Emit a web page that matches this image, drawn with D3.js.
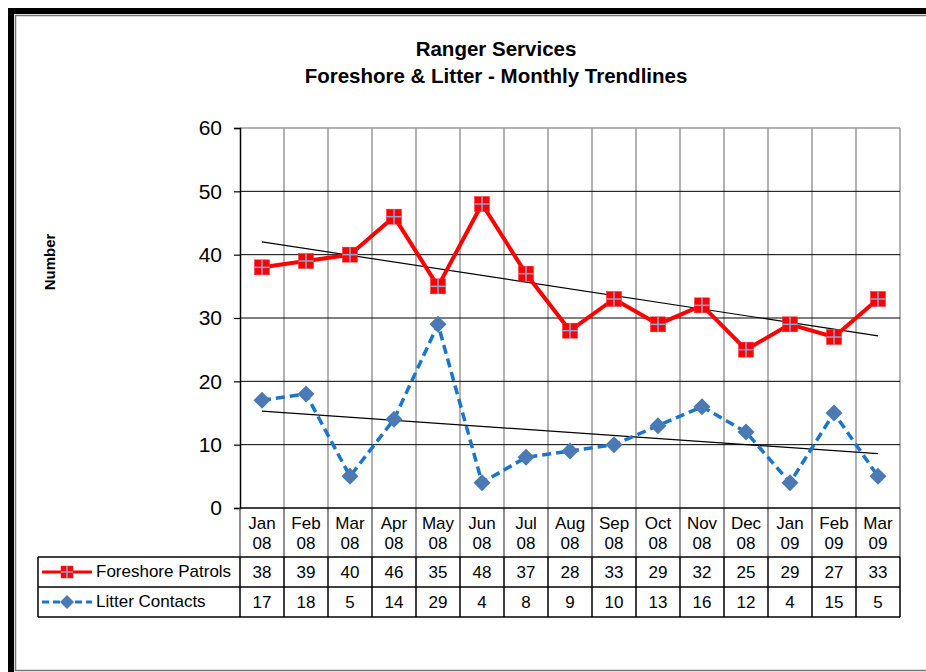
<!DOCTYPE html>
<html>
<head>
<meta charset="utf-8">
<script src="https://cdn.jsdelivr.net/npm/d3@7/dist/d3.min.js"></script>
<style>
  html, body { margin: 0; padding: 0; background: #fff; }
  svg { display: block; font-family: Arial, "Liberation Sans", sans-serif; }
</style>
</head>
<body>
<svg id="chart" width="926" height="672"></svg>
<script>
// Monthly categories (two-line labels: month / year)
const months = ["Jan", "Feb", "Mar", "Apr", "May", "Jun", "Jul", "Aug", "Sep", "Oct", "Nov", "Dec", "Jan", "Feb", "Mar"];
const years  = ["08", "08", "08", "08", "08", "08", "08", "08", "08", "08", "08", "08", "09", "09", "09"];
const foreshorePatrols = [38, 39, 40, 46, 35, 48, 37, 28, 33, 29, 32, 25, 29, 27, 33];
const litterContacts   = [17, 18, 5, 14, 29, 4, 8, 9, 10, 13, 16, 12, 4, 15, 5];
const yTicks = [0, 10, 20, 30, 40, 50, 60];

const seriesNames = ["Foreshore Patrols", "Litter Contacts"];

const svg = d3.select("#chart");

// Chart frame
svg.append("rect").attr("x", 11).attr("y", 11).attr("width", 1000).attr("height", 700)
  .attr("fill", "none").attr("stroke", "#000").attr("stroke-width", 6);
svg.append("rect").attr("x", 15.5).attr("y", 15.5).attr("width", 1000).attr("height", 655)
  .attr("fill", "none").attr("stroke", "#777").attr("stroke-width", 1.5);

// Titles
svg.append("text").attr("x", 496).attr("y", 56).attr("text-anchor", "middle")
  .attr("font-size", 20.5).attr("font-weight", "bold").text("Ranger Services");
svg.append("text").attr("x", 496).attr("y", 83).attr("text-anchor", "middle")
  .attr("font-size", 20.5).attr("font-weight", "bold").text("Foreshore & Litter - Monthly Trendlines");

// Scales
const plotLeft = 240, plotRight = 900, plotTop = 128, plotBottom = 508;
const keys = months.map((m, i) => i);
const x = d3.scaleBand().domain(keys).range([plotLeft, plotRight]);
const y = d3.scaleLinear().domain([0, 60]).range([plotBottom, plotTop]);
const cx = i => x(i) + x.bandwidth() / 2;

// Vertical gridlines at category boundaries
const boundaries = d3.range(months.length + 1).map(i => plotLeft + i * x.bandwidth());
svg.append("g").selectAll("line").data(boundaries.slice(1)).join("line")
  .attr("x1", d => d).attr("x2", d => d).attr("y1", plotTop).attr("y2", plotBottom)
  .attr("stroke", "#999").attr("stroke-width", 1.5);

// Horizontal gridlines
svg.append("g").selectAll("line").data(yTicks.filter(t => t > 0 && t < 60)).join("line")
  .attr("x1", plotLeft).attr("x2", plotRight).attr("y1", d => y(d)).attr("y2", d => y(d))
  .attr("stroke", "#000").attr("stroke-width", 1);
svg.append("line").attr("x1", plotLeft).attr("x2", plotRight).attr("y1", y(60)).attr("y2", y(60))
  .attr("stroke", "#999").attr("stroke-width", 1.5);

// Y axis
const yAxis = svg.append("g").attr("transform", `translate(${plotLeft},0)`)
  .call(d3.axisLeft(y).tickValues(yTicks).tickSize(6).tickPadding(12));
yAxis.select(".domain").attr("stroke", "#000").attr("stroke-width", 1.5);
yAxis.selectAll(".tick line").attr("stroke", "#000").attr("stroke-width", 1.2);
yAxis.selectAll(".tick text").attr("font-size", 21).attr("fill", "#000")
  .attr("font-family", "Arial, 'Liberation Sans', sans-serif");

svg.append("text").attr("transform", "translate(55,262) rotate(-90)")
  .attr("text-anchor", "middle").attr("font-size", 15).attr("font-weight", "bold").text("Number");

// Linear trendlines (least squares over category index)
function trend(values) {
  const n = values.length;
  const xs = d3.range(n);
  const mx = d3.mean(xs), my = d3.mean(values);
  const sxy = d3.sum(xs, i => (i - mx) * (values[i] - my));
  const sxx = d3.sum(xs, i => (i - mx) * (i - mx));
  const b = sxy / sxx, a = my - b * mx;
  return [[0, a], [n - 1, a + b * (n - 1)]];
}
[foreshorePatrols, litterContacts].forEach(vals => {
  const t = trend(vals);
  svg.append("line")
    .attr("x1", cx(t[0][0])).attr("y1", y(t[0][1]))
    .attr("x2", cx(t[1][0])).attr("y2", y(t[1][1]))
    .attr("stroke", "#000").attr("stroke-width", 1.2);
});

// Series lines
const line = d3.line().x((d, i) => cx(i)).y(d => y(d));
svg.append("path").datum(foreshorePatrols).attr("d", line)
  .attr("fill", "none").attr("stroke", "#ff0000").attr("stroke-width", 4).attr("stroke-linejoin", "round");
svg.append("path").datum(litterContacts).attr("d", line)
  .attr("fill", "none").attr("stroke", "#1a75cc").attr("stroke-width", 3.5)
  .attr("stroke-dasharray", "9,5");

// Markers
function squareMarker(g, px, py, s) {
  g.append("rect").attr("x", px - s).attr("y", py - s).attr("width", 2 * s).attr("height", 2 * s)
    .attr("fill", "#ff0000").attr("stroke", "#ff2a2a").attr("stroke-width", 0.5);
  g.append("line").attr("x1", px - s).attr("x2", px + s).attr("y1", py).attr("y2", py)
    .attr("stroke", "#8ea9d4").attr("stroke-width", 1.5);
  g.append("line").attr("x1", px).attr("x2", px).attr("y1", py - s).attr("y2", py + s)
    .attr("stroke", "#8ea9d4").attr("stroke-width", 1.5);
}
function diamondMarker(g, px, py, s) {
  g.append("path").attr("d", `M${px},${py - s}L${px + s},${py}L${px},${py + s}L${px - s},${py}Z`)
    .attr("fill", "#4a79b3");
}
const mFore = svg.append("g");
foreshorePatrols.forEach((v, i) => squareMarker(mFore, cx(i), y(v), 7.5));
const mLit = svg.append("g");
litterContacts.forEach((v, i) => diamondMarker(mLit, cx(i), y(v), 8.5));

// Data table
const tableLeft = 38, headerBottom = 557, row1Bottom = 587, row2Bottom = 617;
const tbl = svg.append("g");
// header verticals
tbl.selectAll("line.hv").data(boundaries).join("line").attr("class", "hv")
  .attr("x1", d => d).attr("x2", d => d).attr("y1", plotBottom).attr("y2", headerBottom)
  .attr("stroke", "#444").attr("stroke-width", 1.2);
// row verticals
tbl.selectAll("line.rv").data([tableLeft].concat(boundaries)).join("line").attr("class", "rv")
  .attr("x1", d => d).attr("x2", d => d).attr("y1", headerBottom).attr("y2", row2Bottom)
  .attr("stroke", "#000").attr("stroke-width", 1.5);
// horizontals
[headerBottom, row1Bottom, row2Bottom].forEach(yy => {
  tbl.append("line").attr("x1", tableLeft).attr("x2", plotRight).attr("y1", yy).attr("y2", yy)
    .attr("stroke", "#000").attr("stroke-width", 1.5);
});
// x axis line
svg.append("line").attr("x1", plotLeft).attr("x2", plotRight).attr("y1", plotBottom).attr("y2", plotBottom)
  .attr("stroke", "#000").attr("stroke-width", 1.5);

// header labels
tbl.selectAll("text.m").data(months).join("text").attr("class", "m")
  .attr("x", (d, i) => cx(i)).attr("y", 529).attr("text-anchor", "middle")
  .attr("font-size", 17).text(d => d);
tbl.selectAll("text.yr").data(years).join("text").attr("class", "yr")
  .attr("x", (d, i) => cx(i)).attr("y", 549).attr("text-anchor", "middle")
  .attr("font-size", 17).text(d => d);
// values
tbl.selectAll("text.v1").data(foreshorePatrols).join("text").attr("class", "v1")
  .attr("x", (d, i) => cx(i)).attr("y", 578).attr("text-anchor", "middle")
  .attr("font-size", 17).text(d => d);
tbl.selectAll("text.v2").data(litterContacts).join("text").attr("class", "v2")
  .attr("x", (d, i) => cx(i)).attr("y", 608).attr("text-anchor", "middle")
  .attr("font-size", 17).text(d => d);

// legend keys inside table
const ly1 = (headerBottom + row1Bottom) / 2, ly2 = (row1Bottom + row2Bottom) / 2;
tbl.append("line").attr("x1", 42).attr("x2", 92).attr("y1", ly1).attr("y2", ly1)
  .attr("stroke", "#ff0000").attr("stroke-width", 3);
squareMarker(tbl, 67, ly1, 6);
tbl.append("line").attr("x1", 42).attr("x2", 92).attr("y1", ly2).attr("y2", ly2)
  .attr("stroke", "#1a75cc").attr("stroke-width", 3).attr("stroke-dasharray", "7,4");
diamondMarker(tbl, 67, ly2, 7);
tbl.append("text").attr("x", 96).attr("y", 577).attr("font-size", 17).text(seriesNames[0]);
tbl.append("text").attr("x", 96).attr("y", 607).attr("font-size", 17).text(seriesNames[1]);
</script>
</body>
</html>
